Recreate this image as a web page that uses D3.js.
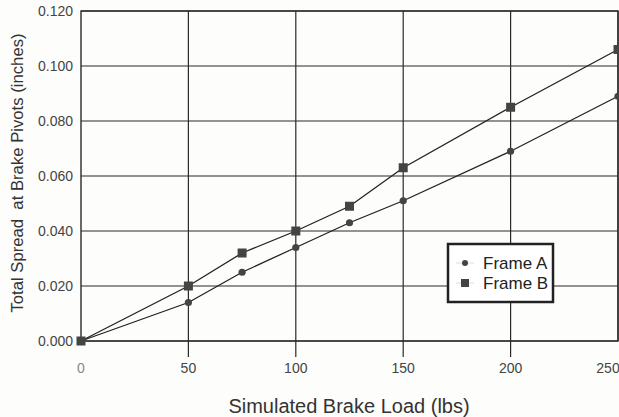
<!DOCTYPE html>
<html>
<head>
<meta charset="utf-8">
<script src="https://cdn.jsdelivr.net/npm/d3@7"></script>
<style>
  body { margin: 0; background: #fdfdfb; }
  svg { display: block; font-family: "Liberation Sans", Arial, sans-serif; }
</style>
</head>
<body>
<div id="chart"></div>
<script>
// data
const loads = [0, 50, 75, 100, 125, 150, 200, 250];
const frameA = [0, 0.014, 0.025, 0.034, 0.043, 0.051, 0.069, 0.089];
const frameB = [0, 0.020, 0.032, 0.040, 0.049, 0.063, 0.085, 0.106];
const xTicks = [0, 50, 100, 150, 200, 250];
const yTicks = [0, 0.02, 0.04, 0.06, 0.08, 0.10, 0.12];
const seriesNames = ["Frame A", "Frame B"];

const width = 619, height = 417;
const plot = { left: 81, right: 618, top: 11, bottom: 341 };

const svg = d3.select("#chart").append("svg")
    .attr("width", width)
    .attr("height", height);

const x = d3.scaleLinear().domain([0, 250]).range([plot.left, plot.right]);
const y = d3.scaleLinear().domain([0, 0.12]).range([plot.bottom, plot.top]);

const ink = "#2a2a2a";

// horizontal grid
svg.append("g").selectAll("line")
    .data(yTicks)
    .join("line")
    .attr("x1", plot.left).attr("x2", plot.right)
    .attr("y1", d => y(d)).attr("y2", d => y(d))
    .attr("stroke", ink).attr("stroke-width", 1.2);

// vertical grid, running past the axis as tick marks
svg.append("g").selectAll("line")
    .data(xTicks.slice(1))
    .join("line")
    .attr("x1", d => x(d)).attr("x2", d => x(d))
    .attr("y1", plot.top).attr("y2", d => d == 250 ? plot.bottom : plot.bottom + 16)
    .attr("stroke", ink).attr("stroke-width", 1.2);

// frame
svg.append("rect")
    .attr("x", plot.left).attr("y", plot.top)
    .attr("width", plot.right - plot.left).attr("height", plot.bottom - plot.top)
    .attr("fill", "none").attr("stroke", ink).attr("stroke-width", 1.4);

// tick labels
svg.append("g").selectAll("text")
    .data(yTicks)
    .join("text")
    .attr("x", plot.left - 8)
    .attr("y", d => y(d) + 5)
    .attr("text-anchor", "end")
    .style("font-size", "14px")
    .attr("fill", "#444")
    .text(d => d3.format(".3f")(d));

svg.append("g").selectAll("text")
    .data(xTicks)
    .join("text")
    .attr("x", d => x(d) - (d == 250 ? 10 : 0))
    .attr("y", plot.bottom + 32)
    .attr("text-anchor", "middle")
    .style("font-size", "14px")
    .attr("fill", d => d == 0 ? "#888" : "#444")
    .text(d => d);

// axis titles
svg.append("text")
    .attr("x", 349)
    .attr("y", 413)
    .attr("text-anchor", "middle")
    .style("font-size", "20px")
    .attr("fill", "#333")
    .text("Simulated Brake Load (lbs)");

svg.append("text")
    .attr("transform", "translate(23,173) rotate(-90)")
    .attr("text-anchor", "middle")
    .style("font-size", "16.7px")
    .attr("fill", "#333")
    .style("white-space", "pre")
    .text("Total Spread  at Brake Pivots (inches)");

// series lines and markers
const line = d3.line().x(d => x(d[0])).y(d => y(d[1]));
const ptsA = loads.map((l, i) => [l, frameA[i]]);
const ptsB = loads.map((l, i) => [l, frameB[i]]);

[ptsA, ptsB].forEach(pts => {
    svg.append("path")
        .attr("d", line(pts))
        .attr("fill", "none")
        .attr("stroke", "#222")
        .attr("stroke-width", 1.3);
});

svg.append("g").selectAll("circle")
    .data(ptsA)
    .join("circle")
    .attr("cx", d => x(d[0])).attr("cy", d => y(d[1]))
    .attr("r", 3.6)
    .attr("fill", "#444");

svg.append("g").selectAll("rect")
    .data(ptsB)
    .join("rect")
    .attr("x", d => x(d[0]) - 4.5).attr("y", d => y(d[1]) - 4.5)
    .attr("width", 9).attr("height", 9)
    .attr("fill", "#444");

// legend
const legend = svg.append("g").attr("transform", "translate(448,244)");
legend.append("rect")
    .attr("width", 105).attr("height", 58)
    .attr("fill", "#fff")
    .attr("stroke", "#222").attr("stroke-width", 2.5);

seriesNames.forEach((name, i) => {
    const cy = 19 + i * 20;
    legend.append("line")
        .attr("x1", 8).attr("x2", 26)
        .attr("y1", cy).attr("y2", cy)
        .attr("stroke", "#ddd").attr("stroke-width", 1);
    if (i == 0) {
        legend.append("circle").attr("cx", 17).attr("cy", cy).attr("r", 3).attr("fill", "#444");
    } else {
        legend.append("rect").attr("x", 13).attr("y", cy - 4).attr("width", 8).attr("height", 8).attr("fill", "#444");
    }
    legend.append("text")
        .attr("x", 35)
        .attr("y", cy + 6)
        .style("font-size", "17px")
        .attr("fill", "#222")
        .text(name);
});
</script>
</body>
</html>
